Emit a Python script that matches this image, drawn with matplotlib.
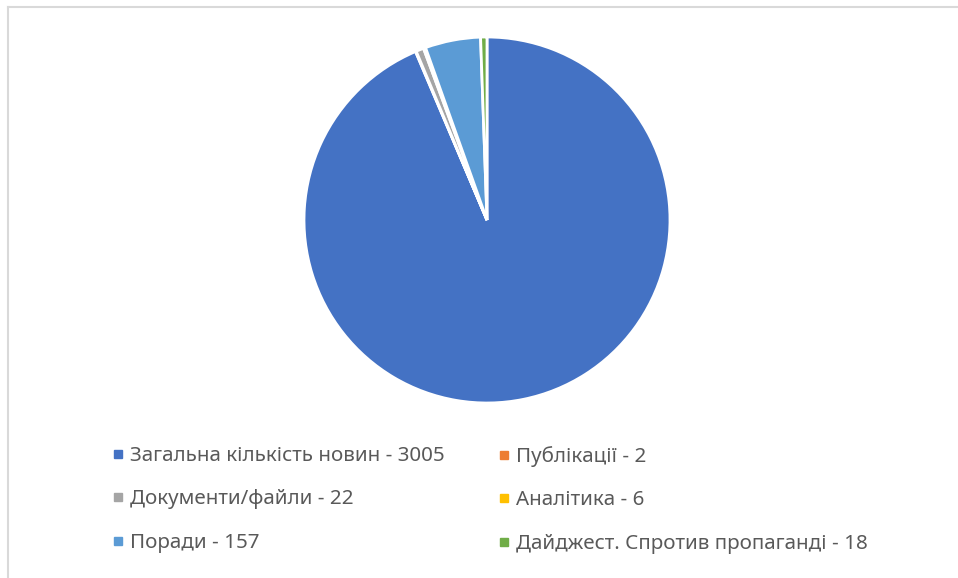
import matplotlib.pyplot as plt
from matplotlib.lines import Line2D

labels = ["Загальна кількість новин - 3005", "Публікації - 2", "Документи/файли - 22",
          "Аналітика - 6", "Поради - 157", "Дайджест. Спротив пропаганді - 18"]
values = [3005, 2, 22, 6, 157, 18]
colors = ["#4472C4", "#ED7D31", "#A5A5A5", "#FFC000", "#5B9BD5", "#70AD47"]

plt.rcParams['font.family'] = ['Noto Sans', 'DejaVu Sans']

W, H = 958, 578
fig = plt.figure(figsize=(W / 100, H / 100), dpi=100)

# pie axes placed by pixel centre/radius
cx, cy, r = 487, 220, 183
ax = fig.add_axes([(cx - r) / W, (H - cy - r) / H, 2 * r / W, 2 * r / H])
ax.pie(values, colors=colors, startangle=90, counterclock=False,
       wedgeprops=dict(edgecolor="white", linewidth=2), radius=1)
ax.set_xlim(-1, 1)
ax.set_ylim(-1, 1)
ax.set_aspect("equal")
ax.axis("off")

# legend, two columns laid out row-wise like the original
def make_legend(idx, x):
    handles = [Line2D([], [], marker="s", linestyle="none", markersize=6,
                      markerfacecolor=colors[i], markeredgecolor=colors[i]) for i in idx]
    leg = fig.legend(handles, [labels[i] for i in idx], loc="upper left",
                     bbox_to_anchor=(x / W, 1 - 446 / H), frameon=False,
                     fontsize=14.8, labelcolor="#595959", handlelength=0.45,
                     handletextpad=0.4, labelspacing=1.14, borderpad=0, borderaxespad=0)
    return leg

make_legend([0, 2, 4], 113)
make_legend([1, 3, 5], 499)

# frame edges of the cropped chart area
fig.add_artist(Line2D([8 / W, 8 / W], [0, 1 - 7 / H], color="#D9D9D9", linewidth=1.5))
fig.add_artist(Line2D([8 / W, 1], [1 - 7 / H, 1 - 7 / H], color="#D9D9D9", linewidth=1.5))

fig.savefig("out.png", dpi=100)
